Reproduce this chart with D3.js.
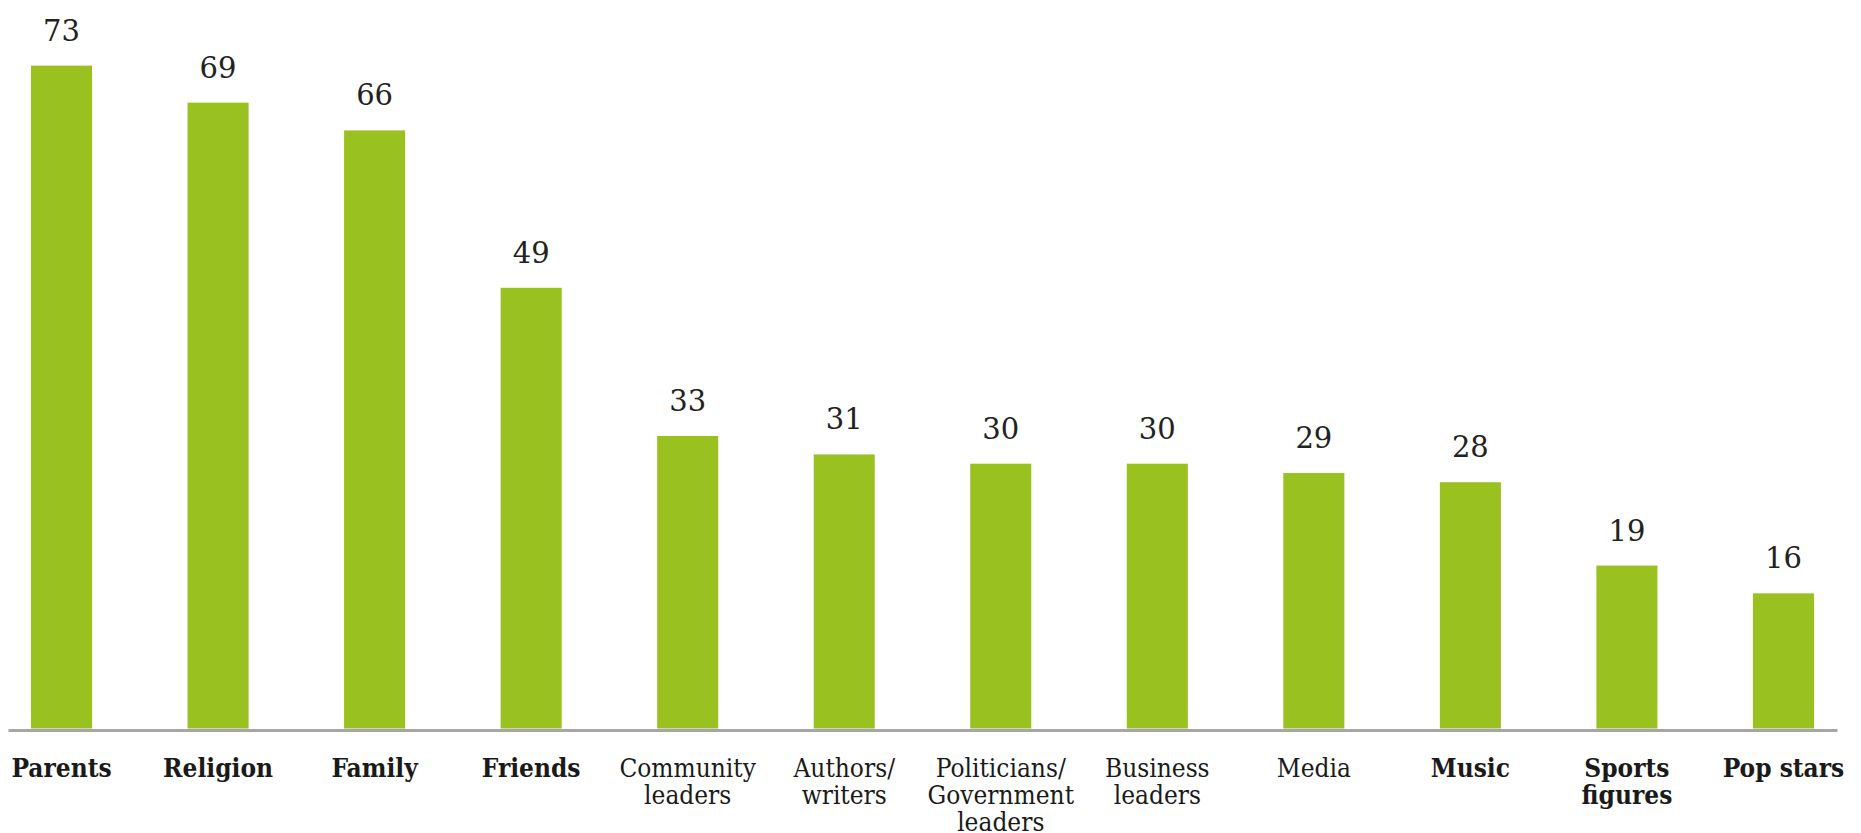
<!DOCTYPE html>
<html>
<head>
<meta charset="utf-8">
<script src="https://cdn.jsdelivr.net/npm/d3@7"></script>
<style>
  html, body { margin: 0; padding: 0; background: #ffffff; }
  svg { display: block; }
  .cat { font-family: "DejaVu Serif", serif; font-stretch: condensed; font-size: 26px; fill: #1a1a1a; }
  .val { font-family: "DejaVu Serif", serif; font-size: 29px; fill: #222222; }
</style>
</head>
<body>
<svg id="chart"></svg>
<script>
// Share of respondents naming each source of influence (%)
const categories = [
  "Parents", "Religion", "Family", "Friends", "Community leaders",
  "Authors/writers", "Politicians/Government leaders", "Business leaders",
  "Media", "Music", "Sports figures", "Pop stars"
];
const categoryLines = [
  ["Parents"], ["Religion"], ["Family"], ["Friends"], ["Community", "leaders"],
  ["Authors/", "writers"], ["Politicians/", "Government", "leaders"], ["Business", "leaders"],
  ["Media"], ["Music"], ["Sports", "figures"], ["Pop stars"]
];
const boldCategories = ["Parents", "Religion", "Family", "Friends", "Music", "Sports figures", "Pop stars"];
const values = [73, 69, 66, 49, 33, 31, 30, 30, 29, 28, 19, 16];
const valueDomain = [1.4, 80];

const width = 1861, height = 833;
const svg = d3.select("#chart").attr("width", width).attr("height", height);

const x = d3.scaleBand()
  .domain(categories)
  .range([8, 1837])
  .paddingInner(0.61)
  .paddingOuter(0.147);

const y = d3.scaleLinear()
  .domain(valueDomain)
  .range([728.5, 0.8]);

const base = y.range()[0];
const data = categories.map((c, i) => ({ name: c, value: values[i], lines: categoryLines[i] }));

// bars
svg.append("g")
  .selectAll("rect")
  .data(data)
  .join("rect")
  .attr("x", d => x(d.name))
  .attr("y", d => y(d.value))
  .attr("width", x.bandwidth())
  .attr("height", d => base - y(d.value))
  .attr("fill", "#99c120");

// baseline
const axis = d3.axisBottom(x).tickSize(0).tickFormat("");
const axisG = svg.append("g")
  .attr("transform", `translate(0,${base + 1.5})`)
  .call(axis);
axisG.select(".domain").attr("stroke", "#a6a6a6").attr("stroke-width", 3);

// value labels
svg.append("g")
  .selectAll("text")
  .data(data)
  .join("text")
  .attr("class", "val")
  .attr("x", d => x(d.name) + x.bandwidth() / 2)
  .attr("y", d => y(d.value) - 25)
  .attr("text-anchor", "middle")
  .text(d => d.value);

// category labels
const cat = svg.append("g")
  .selectAll("text")
  .data(data)
  .join("text")
  .attr("class", "cat")
  .attr("x", d => x(d.name) + x.bandwidth() / 2)
  .attr("y", 777)
  .attr("text-anchor", "middle")
  .attr("font-weight", d => boldCategories.includes(d.name) ? "bold" : "normal");

cat.selectAll("tspan")
  .data(d => d.lines.map(l => ({ l, x: x(d.name) + x.bandwidth() / 2 })))
  .join("tspan")
  .attr("x", t => t.x)
  .attr("dy", (t, i) => i === 0 ? 0 : 27)
  .text(t => t.l);
</script>
</body>
</html>
